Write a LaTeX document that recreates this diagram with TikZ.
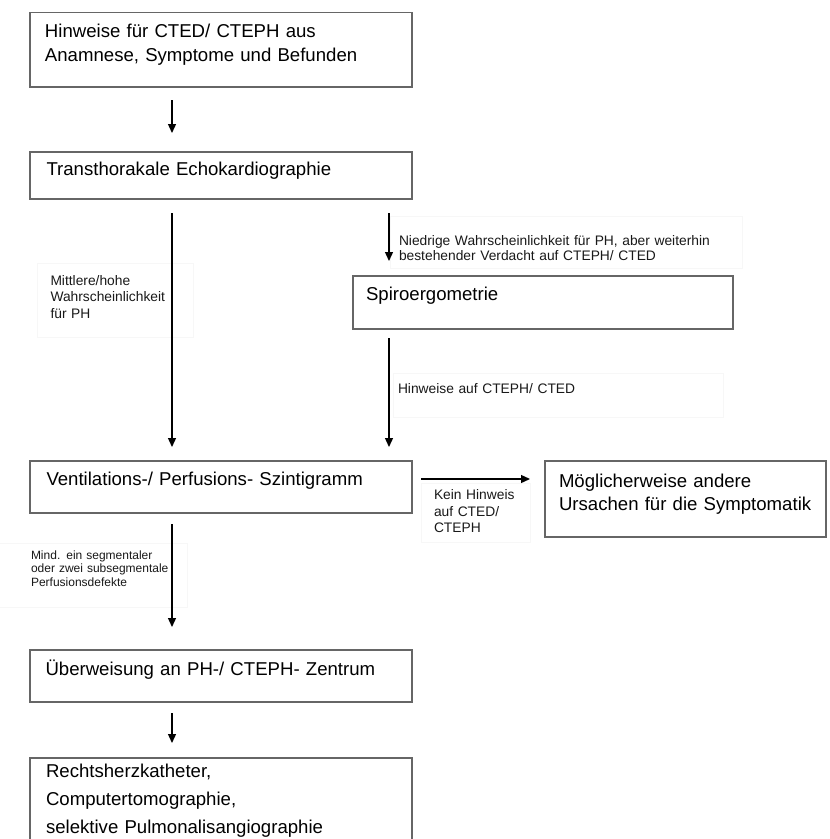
\documentclass[tikz,border=0pt]{standalone}
\usepackage{fontspec}
\setmainfont{Liberation Sans}
\usetikzlibrary{arrows.meta}
\begin{document}
\begin{tikzpicture}[x=1pt,y=-1pt,
  box/.style={draw=black!60, line width=1.3pt, inner sep=0pt, outer sep=0pt, anchor=north west},
  btext/.style={anchor=base west, inner sep=0pt, outer sep=0pt, text=black, align=left,
                font=\fontsize{18.6}{24}\selectfont, text width=370pt},
  ltext/.style={anchor=base west, inner sep=0pt, outer sep=0pt, text=black!90, align=left},
  conn/.style={-{Triangle[length=9pt,width=8pt]}, line width=1.3pt, black},
  faint/.style={draw=black!3, line width=0.8pt}]
\useasboundingbox (0,0) rectangle (830,839);
\clip (0,0) rectangle (830,839);
\fill[white] (0,0) rectangle (830,839);

% faint label frames
\draw[faint] (37,263) rectangle (193,337);
\draw[faint] (390,216) rectangle (742,268);
\draw[faint] (393,373) rectangle (723,417);
\draw[faint] (421,483) rectangle (530,542);
\draw[faint] (-2,543) rectangle (187,607);

% boxes
\node[box, minimum width=382pt, minimum height=74.5pt] (b1) at (30,12.5) {};
\node[box, minimum width=382pt, minimum height=47pt] (b2) at (30,152) {};
\node[box, minimum width=380pt, minimum height=53pt] (b3) at (353,276) {};
\node[box, minimum width=382pt, minimum height=52pt] (b4) at (30,461) {};
\node[box, minimum width=281pt, minimum height=76pt] (b5) at (545,461) {};
\node[box, minimum width=382pt, minimum height=52pt] (b6) at (30,650) {};
\node[box, minimum width=382pt, minimum height=120pt] (b7) at (30,758) {};

% box texts
\node[btext] (t1) at (45,37.7) {Hinweise für CTED/ CTEPH aus\\Anamnese, Symptome und Befunden};
\node[btext] (t2) at (46.5,175.7) {Transthorakale Echokardiographie};
\node[btext] (t3) at (366,300.7) {Spiroergometrie};
\node[btext] (t4) at (46.5,485.7) {Ventilations-/ Perfusions- Szintigramm};
\node[btext, text width=270pt, font=\fontsize{18.6}{22.5}\selectfont] (t5) at (559,487.5) {Möglicherweise andere\\Ursachen für die Symptomatik};
\node[btext] (t6) at (45.5,675) {Überweisung an PH-/ CTEPH- Zentrum};
\node[btext, font=\fontsize{18.6}{28}\selectfont] (t7) at (46,777.3) {Rechtsherzkatheter,\\Computertomographie,\\selektive Pulmonalisangiographie};

% coordinates for the right column arrows
\coordinate (c3) at ([xshift=36pt]b3.north west);
\coordinate (c3s) at ([xshift=36pt]b3.south west);

% connectors
\draw[conn, shorten <=13pt, shorten >=19pt] ([xshift=142pt]b1.south west) -- ([xshift=142pt]b2.north west);
\draw[conn, shorten <=14pt, shorten >=14pt] ([xshift=142pt]b2.south west) -- ([xshift=142pt]b4.north west);
\draw[conn, shorten <=14pt, shorten >=15pt] (c3 |- b2.south) -- (c3);
\draw[conn, shorten <=9pt, shorten >=14pt] (c3s) -- (c3s |- b4.north);
\draw[conn, shorten <=9pt, shorten >=15pt] ([yshift=-18pt]b4.north east) -- ([yshift=-18pt]b5.north west);
\draw[conn, shorten <=11pt, shorten >=23pt] ([xshift=142pt]b4.south west) -- ([xshift=142pt]b6.north west);
\draw[conn, shorten <=11pt, shorten >=15pt] ([xshift=142pt]b6.south west) -- ([xshift=142pt]b7.north west);

% connector labels
\node[ltext, text width=150pt, font=\fontsize{13.8}{16.5}\selectfont] (l1) at (50.5,285) {Mittlere/hohe\\Wahrscheinlichkeit\\für PH};
\node[ltext, text width=340pt, font=\fontsize{13.8}{15}\selectfont] (l2) at (399,245) {Niedrige Wahrscheinlichkeit für PH, aber weiterhin\\bestehender Verdacht auf CTEPH/ CTED};
\node[ltext, text width=300pt, font=\fontsize{13.8}{16.5}\selectfont] (l3) at (398,393) {Hinweise auf CTEPH/ CTED};
\node[ltext, text width=95pt, font=\fontsize{13.8}{16.7}\selectfont] (l4) at (434,499.3) {Kein Hinweis\\auf CTED/\\CTEPH};
\node[ltext, text width=160pt, font=\fontsize{12}{13.5}\selectfont] (l5) at (31,559.3) {Mind. ein segmentaler\\oder zwei subsegmentale\\Perfusionsdefekte};
\end{tikzpicture}
\end{document}
